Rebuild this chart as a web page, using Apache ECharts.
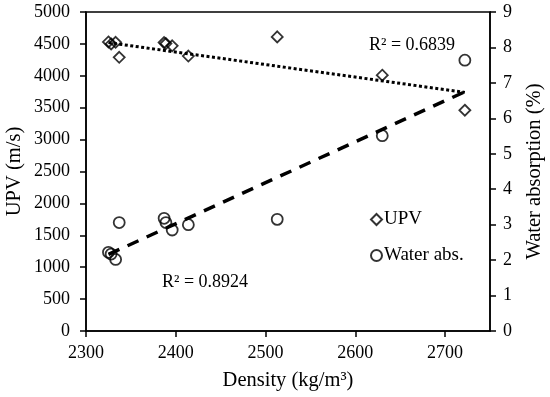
<!DOCTYPE html>
<html>
<head>
<meta charset="utf-8">
<script src="https://cdn.jsdelivr.net/npm/echarts@6/dist/echarts.min.js"></script>
<style>
html,body{margin:0;padding:0;background:#fff;}
#chart{width:550px;height:397px;}
</style>
</head>
<body>
<div id="chart"></div>
<script>
// Data
var density = [2325, 2328, 2333, 2337, 2387, 2389, 2396, 2414, 2513, 2630, 2722];
var upv = [4530, 4500, 4525, 4290, 4520, 4505, 4470, 4310, 4610, 4010, 3460];
var waterAbs = [2.22, 2.17, 2.02, 3.06, 3.18, 3.06, 2.85, 3.00, 3.15, 5.51, 7.64];
// Trend line end points (as drawn in the picture)
var upvTrendX = [2325, 2722];
var upvTrendY = [4520, 3740];
var waterTrendX = [2325, 2722];
var waterTrendY = [2.16, 6.75];
var xTicks = [2300, 2400, 2500, 2600, 2700];
var r2Upv = 'R\u00b2 = 0.6839';
var r2Water = 'R\u00b2 = 0.8924';

var FONT = "'Liberation Serif', 'Times New Roman', serif";
function zip(a, b) { return a.map(function (v, i) { return [v, b[i]]; }); }

var chart = echarts.init(document.getElementById('chart'), null, {renderer: 'canvas'});
var axisLine = {show: true, lineStyle: {color: '#000', width: 1.5}};
var axisTick = {show: true, inside: false, length: 6, lineStyle: {color: '#000', width: 1.5}};
var labelStyle = {color: '#000', fontFamily: FONT, fontSize: 18};
var titleStyle = {color: '#000', fontFamily: FONT, fontSize: 20.5};

chart.setOption({
  animation: false,
  backgroundColor: '#fff',
  grid: {left: 86, right: 60, top: 12, bottom: 66, show: true, borderColor: '#000', borderWidth: 1.5,
         containLabel: false, outerBoundsMode: 'none'},
  legend: {
    orient: 'vertical', left: 365, top: 205, itemGap: 17, itemWidth: 11, itemHeight: 11,
    data: ['UPV', 'Water abs.'],
    textStyle: {color: '#000', fontFamily: FONT, fontSize: 19, padding: [0,0,0,-3]}
  },
  xAxis: {
    type: 'value', min: 2300, max: 2750, interval: 100,
    name: 'Density (kg/m\u00b3)', nameLocation: 'middle', nameGap: 39,
    nameTextStyle: titleStyle,
    axisLine: axisLine, axisTick: axisTick, splitLine: {show: false},
    axisLabel: Object.assign({margin: 13, showMaxLabel: false, formatter: function (v) { return xTicks.indexOf(v) >= 0 ? String(v) : ''; }}, labelStyle)
  },
  yAxis: [{
    type: 'value', min: 0, max: 5000, interval: 500, position: 'left',
    name: 'UPV (m/s)', nameLocation: 'middle', nameGap: 61, nameMoveOverlap: false,
    nameTextStyle: titleStyle,
    axisLine: axisLine, axisTick: axisTick, splitLine: {show: false},
    axisLabel: Object.assign({margin: 16, formatter: function (v) { return String(v); }}, labelStyle)
  }, {
    type: 'value', min: 0, max: 9, interval: 1, position: 'right',
    name: 'Water absorption (%)', nameLocation: 'middle', nameGap: 34, nameRotate: 90,
    nameTextStyle: titleStyle,
    axisLine: axisLine, axisTick: axisTick, splitLine: {show: false},
    axisLabel: Object.assign({margin: 13, formatter: function (v) { return String(v); }}, labelStyle)
  }],
  series: [{
    name: 'UPV trend', type: 'line', yAxisIndex: 0, data: zip(upvTrendX, upvTrendY),
    showSymbol: false, symbol: 'none', silent: true,
    lineStyle: {color: '#000', width: 3, type: [3, 2.5], cap: 'butt'}, z: 1
  }, {
    name: 'Water trend', type: 'line', yAxisIndex: 1, data: zip(waterTrendX, waterTrendY),
    showSymbol: false, symbol: 'none', silent: true,
    lineStyle: {color: '#000', width: 3.5, type: [12, 9], cap: 'butt'}, z: 1
  }, {
    name: 'UPV', type: 'scatter', yAxisIndex: 0, data: zip(density, upv),
    symbol: 'diamond', symbolSize: 11,
    itemStyle: {color: 'rgba(0,0,0,0)', borderColor: '#000', borderWidth: 1.8}, z: 3
  }, {
    name: 'Water abs.', type: 'scatter', yAxisIndex: 1, data: zip(density, waterAbs),
    symbol: 'circle', symbolSize: 11,
    itemStyle: {color: 'rgba(0,0,0,0)', borderColor: '#000', borderWidth: 1.8}, z: 3
  }],
  graphic: [
    {type: 'text', left: 369, top: 36, style: {text: r2Upv, fill: '#000', font: '18px ' + FONT}},
    {type: 'text', left: 162, top: 273, style: {text: r2Water, fill: '#000', font: '18px ' + FONT}}
  ]
});
</script>
</body>
</html>
